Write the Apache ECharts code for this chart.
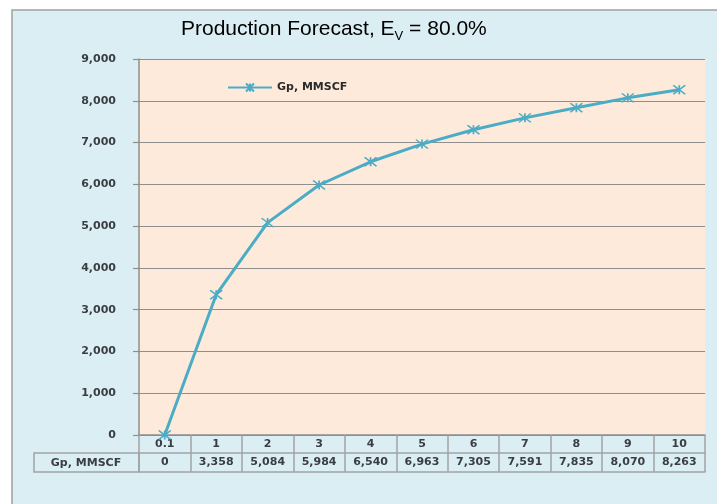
<!DOCTYPE html>
<html><head><meta charset="utf-8">
<script src="https://cdn.jsdelivr.net/npm/echarts@6/dist/echarts.min.js"></script>
<style>html,body{margin:0;padding:0;background:#fff}#c{width:717px;height:504px}</style>
</head><body><div id="c"></div>
<script>
const categories = ['0.1', '1', '2', '3', '4', '5', '6', '7', '8', '9', '10'];
const gpValues = [0, 3358, 5084, 5984, 6540, 6963, 7305, 7591, 7835, 8070, 8263];
const seriesName = 'Gp, MMSCF';
const yMin = 0, yMax = 9000, yStep = 1000;

const fmt = v => String(v).replace(/\B(?=(\d{3})+(?!\d))/g, ',');
const FONT = 'DejaVu Sans';
const GRID_C = '#8E8E8E';
const TABLE_C = '#A3A3A3';
const TEXT_C = '#3a3d42';
const LINE_C = '#4BACC6';
const STAR = 'path://M0,0L12,9M12,0L0,9M6,0L6,9';
const SMALL = { fontFamily: FONT, fontSize: 11, fontWeight: 'bold', color: TEXT_C };

const chart = echarts.init(document.getElementById('c'));
chart.setOption({
  animation: false,
  backgroundColor: 'transparent',
  graphic: [
    { type: 'rect', z: -10, silent: true,
      shape: { x: 12, y: 10, width: 800, height: 600 },
      style: { fill: '#DBEEF4', stroke: '#A0A0A0', lineWidth: 1.5 } },
    { type: 'rect', z: 5, silent: true,
      shape: { x: 34, y: 453, width: 105, height: 19 },
      style: { fill: 'none', stroke: TABLE_C, lineWidth: 1.5 } },
    { type: 'text', z: 6, silent: true, x: 86, y: 463,
      style: { text: seriesName, fill: TEXT_C, fontSize: 11, fontFamily: FONT, fontWeight: 'bold',
               align: 'center', verticalAlign: 'middle' } }
  ],
  title: {
    text: 'Production Forecast, E{v|V} = 80.0%',
    left: 176, top: 14,
    textStyle: {
      fontFamily: 'Liberation Sans', fontSize: 21, fontWeight: 'normal', color: '#000',
      rich: { v: { fontFamily: 'Liberation Sans', fontSize: 13, color: '#000',
                   verticalAlign: 'top', lineHeight: 13, padding: [11, 0, 0, 0] } }
    }
  },
  legend: {
    data: [seriesName], left: 222, top: 77,
    itemWidth: 44, itemHeight: 10, itemGap: 4,
    textStyle: { fontFamily: FONT, fontSize: 11, fontWeight: 'bold', color: '#2a2a2a' }
  },
  grid: { left: 139, top: 59, right: 12, bottom: 69, show: true,
          backgroundColor: '#FDEADA', borderWidth: 0, containLabel: false },
  yAxis: {
    type: 'value', min: yMin, max: yMax, interval: yStep,
    axisLine: { show: true, lineStyle: { color: GRID_C, width: 1.5 } },
    axisTick: { show: true, length: 6, lineStyle: { color: GRID_C, width: 1.2 } },
    axisLabel: Object.assign({ margin: 23, formatter: v => fmt(v) }, SMALL),
    splitLine: { show: true, lineStyle: { color: GRID_C, width: 1.2 } }
  },
  xAxis: [
    { type: 'category', data: categories, boundaryGap: true, position: 'bottom',
      axisLine: { show: true, lineStyle: { color: GRID_C, width: 1.5 } },
      axisTick: { show: true, length: 37, alignWithLabel: false, interval: 0, lineStyle: { color: TABLE_C, width: 1.5 } },
      axisLabel: Object.assign({ interval: 0, margin: 4 }, SMALL),
      splitLine: { show: false } },
    { type: 'category', data: categories, boundaryGap: true, position: 'bottom', offset: 18,
      axisLine: { show: true, lineStyle: { color: TABLE_C, width: 1.5 } },
      axisTick: { show: false },
      axisLabel: Object.assign({ interval: 0, margin: 4, formatter: (v, i) => fmt(gpValues[i]) }, SMALL),
      splitLine: { show: false } },
    { type: 'category', data: categories, boundaryGap: true, position: 'bottom', offset: 37,
      axisLine: { show: true, lineStyle: { color: TABLE_C, width: 1.5 } },
      axisTick: { show: false }, axisLabel: { show: false }, splitLine: { show: false } }
  ],
  series: [{
    name: seriesName, type: 'line', xAxisIndex: 0, data: gpValues,
    symbol: STAR, symbolSize: [12, 9], showAllSymbol: true,
    lineStyle: { color: LINE_C, width: 3 },
    itemStyle: { color: LINE_C, borderColor: LINE_C, borderWidth: 1.5 },
    z: 10
  }]
});
</script>
</body></html>
